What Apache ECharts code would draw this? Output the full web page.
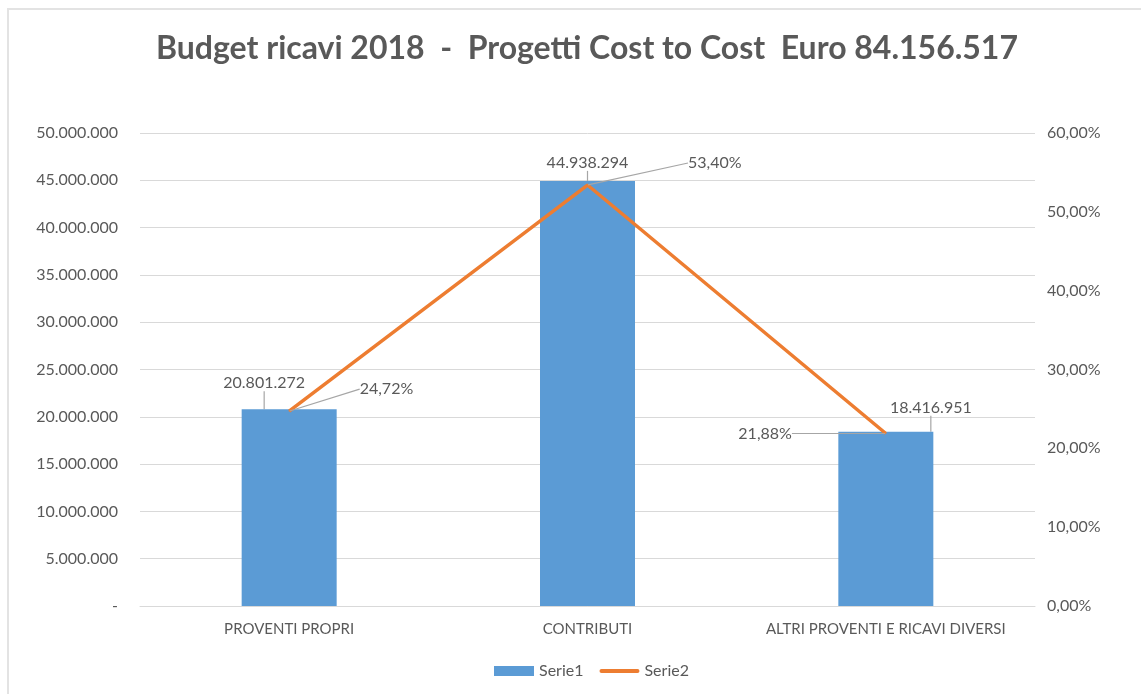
<!DOCTYPE html>
<html>
<head>
<meta charset="utf-8">
<script src="https://cdn.jsdelivr.net/npm/echarts@6/dist/echarts.min.js"></script>
<style>
html,body{margin:0;padding:0;background:#fff;}
#chart{width:1141px;height:694px;}
</style>
</head>
<body>
<div id="chart"></div>
<script>
const categories = ['PROVENTI PROPRI', 'CONTRIBUTI', 'ALTRI PROVENTI E RICAVI DIVERSI'];
const serie1 = [20801272, 44938294, 18416951];
const serie2 = [24.72, 53.40, 21.88];
const leftTicks = { min: 0, max: 50000000, interval: 5000000 };
const rightTicks = { min: 0, max: 60, interval: 10 };

const FONT = 'Lato';
const GREY = '#595959';

function fmtThousands(v) {
  if (v === 0) return '-';
  return String(Math.round(v)).replace(/\B(?=(\d{3})+(?!\d))/g, '.');
}
function fmtPct(v) {
  return v.toFixed(2).replace('.', ',') + '%';
}

const barLabelShift = [[-25, -14], [0, -6], [45, -12]];
const lineLabelShift = [[68, -22], [98, -22], [-150, 0]];

const chart = echarts.init(document.getElementById('chart'));
chart.setOption({
  animation: false,
  backgroundColor: '#fff',
  textStyle: { fontFamily: FONT },
  title: {
    text: 'Budget ricavi 2018  -  Progetti Cost to Cost  Euro 84.156.517',
    left: 151,
    top: 28,
    textStyle: { fontFamily: FONT, fontSize: 32, fontWeight: 'bold', color: GREY }
  },
  graphic: [{
    type: 'rect',
    shape: { x: 8, y: 9, width: 1200, height: 800 },
    style: { fill: 'none', stroke: '#e3e3e3', lineWidth: 2 },
    silent: true
  }],
  legend: {
    bottom: 10,
    left: 489,
    itemWidth: 40,
    itemHeight: 10,
    itemGap: 16,
    textStyle: { fontFamily: FONT, fontSize: 16, color: GREY },
    data: [
      { name: 'Serie1', icon: 'rect' },
      { name: 'Serie2', icon: 'path://M2,0 L38,0 A2,2 0 0 1 38,4 L2,4 A2,2 0 0 1 2,0 Z', symbolKeepAspect: true,
        itemStyle: { color: '#ed7d31' } }
    ]
  },
  grid: { left: 140, right: 106, top: 133, bottom: 88, containLabel: false },
  xAxis: {
    type: 'category',
    data: categories,
    axisLine: { lineStyle: { color: '#d9d9d9', width: 1 } },
    axisTick: { show: false },
    axisLabel: { fontFamily: FONT, fontSize: 15, color: GREY, margin: 16, interval: 0, hideOverlap: false }
  },
  yAxis: [{
    type: 'value',
    min: leftTicks.min, max: leftTicks.max, interval: leftTicks.interval,
    axisLine: { show: false },
    axisTick: { show: false },
    splitLine: { lineStyle: { color: '#d9d9d9' } },
    axisLabel: { fontFamily: FONT, fontSize: 16, color: GREY, margin: 22, formatter: fmtThousands }
  }, {
    type: 'value',
    min: rightTicks.min, max: rightTicks.max, interval: rightTicks.interval,
    axisLine: { show: false },
    axisTick: { show: false },
    splitLine: { show: false },
    axisLabel: { fontFamily: FONT, fontSize: 16, color: GREY, margin: 12, formatter: fmtPct }
  }],
  series: [{
    name: 'Serie1',
    type: 'bar',
    data: serie1,
    barWidth: 95,
    itemStyle: { color: '#5b9bd5' },
    label: {
      show: true, position: 'top', distance: 4,
      fontFamily: FONT, fontSize: 16, color: GREY,
      formatter: p => fmtThousands(p.value)
    },
    labelLine: { show: true, lineStyle: { color: '#a6a6a6', width: 1.2 } },
    labelLayout: p => ({ dx: barLabelShift[p.dataIndex][0], dy: barLabelShift[p.dataIndex][1] }),
    z: 2
  }, {
    name: 'Serie2',
    type: 'line',
    yAxisIndex: 1,
    data: serie2,
    symbol: 'circle',
    symbolSize: 1,
    showSymbol: true,
    lineStyle: { color: '#ed7d31', width: 3.5 },
    itemStyle: { color: '#ed7d31' },
    label: {
      show: true, position: 'right', distance: 2,
      fontFamily: FONT, fontSize: 16, color: GREY,
      formatter: p => fmtPct(p.value)
    },
    labelLine: { show: true, lineStyle: { color: '#a6a6a6', width: 1.2 } },
    labelLayout: p => ({ dx: lineLabelShift[p.dataIndex][0], dy: lineLabelShift[p.dataIndex][1] }),
    z: 3
  }]
});
</script>
</body>
</html>
